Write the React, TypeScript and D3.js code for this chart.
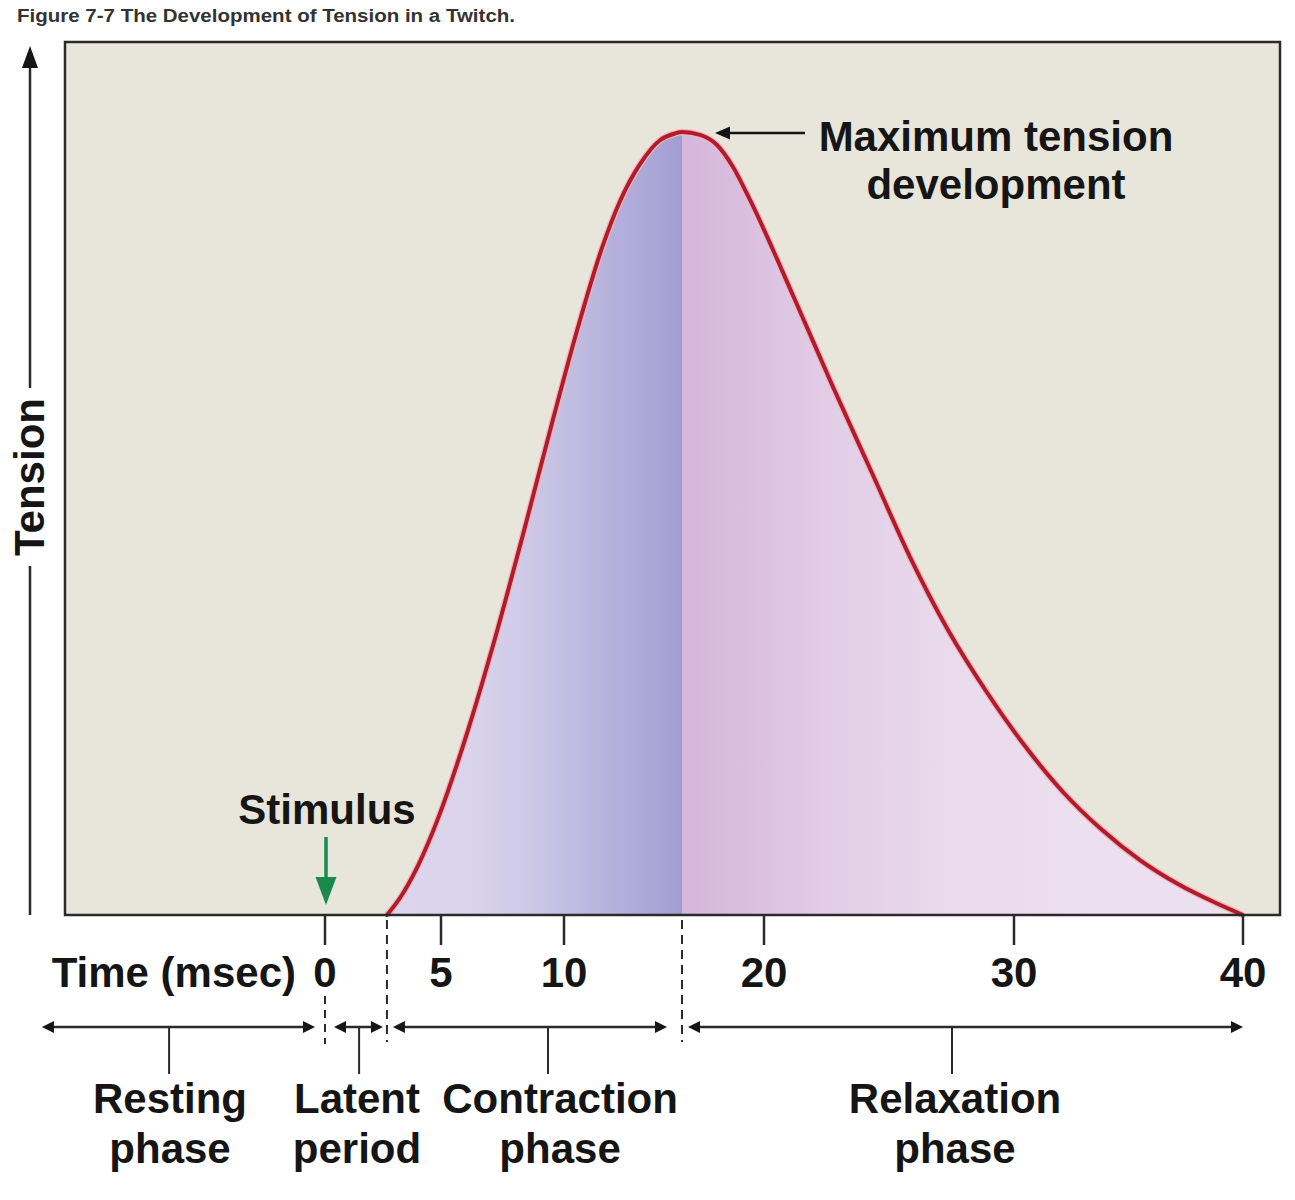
import React from "react";
import * as d3 from "d3";

// ---- Data ----
const titleText = "Figure 7-7 The Development of Tension in a Twitch.";
const tickTimes = [0, 5, 10, 20, 30, 40];
const tickLabels = ["0", "5", "10", "20", "30", "40"];

// twitch curve: time (msec) vs tension (% of max)
const timeMs = [2.67, 3.23, 4.01, 4.87, 6.06, 7.28, 8.41, 9.51, 10.7, 11.9, 12.8, 13.8, 14.8, 15.55, 15.9, 16.8, 17.65, 18.45, 19.3, 21.24, 22.76, 24.32, 25.84, 27.36, 28.88, 30.48, 32.14, 33.8, 35.5, 37.16, 38.82, 40];
const tension = [0, 2.17, 6.31, 12.31, 23.24, 36.27, 49.5, 62.78, 75.07, 85.19, 91.16, 95.89, 98.95, 99.81, 100, 99.62, 98.34, 95.53, 91.32, 78.54, 67.43, 56.45, 45.72, 36.4, 28.61, 21.58, 15.71, 10.98, 7.02, 3.96, 1.53, 0];

const stimulusTime = 0;
const onsetTime = 2.67;
const peakTime = 15.9;
const endTime = 40;

// phases: [start, end] in msec, label lines, tick / label anchor times
const phaseStarts = [-12.2, 0, 2.67, 15.9];
const phaseEnds = [0, 2.67, 15.9, 40];
const phaseLabels = [["Resting", "phase"], ["Latent", "period"], ["Contraction", "phase"], ["Relaxation", "phase"]];
const phaseTickTimes = [-6.72, 1.47, 9.35, 27.52];
const phaseLabelTimes = [-6.68, 1.38, 9.84, 27.64];

// fill colour stops (time, colour)
const fillStopTimes = [2.67, 6.2, 8.2, 9.85, 12.8, 15.3, 15.9, 15.9, 18.3, 20.6, 23.4, 27.4, 33.4, 40];
const fillStopColors = ["#ddd6ed", "#d9d3eb", "#d0cbe7", "#c4c0e2", "#b3aedb", "#a5a2d4", "#9f9dd0", "#d6b6da", "#d9bcde", "#dec5e3", "#e3cfe7", "#e9daec", "#ecdfef", "#ecdff0"];

const FONT = "'Liberation Sans', Arial, Helvetica, sans-serif";

export default function App() {
  const W = 1295, H = 1200;
  const box = { left: 65, top: 42, right: 1280, bottom: 915 };

  const x = d3.scaleLinear().domain(tickTimes).range([325, 441, 564, 764, 1014, 1243]);
  const y = d3.scaleLinear().domain([0, 100]).range([box.bottom, 132]);

  const pts: [number, number][] = timeMs.map((t, i) => [t, tension[i]]);
  const line = d3.line<[number, number]>().x(d => x(d[0])).y(d => y(d[1])).curve(d3.curveMonotoneX);
  const area = d3.area<[number, number]>().x(d => x(d[0])).y0(box.bottom).y1(d => y(d[1])).curve(d3.curveMonotoneX);

  const gx0 = x(onsetTime), gx1 = x(endTime);
  const stops = fillStopTimes.map((t, i) => ({ off: (x(t) - gx0) / (gx1 - gx0), c: fillStopColors[i] }));

  const ink = "#151515";
  const lineInk = "#2a2a2a";
  const FS = 42;

  const arrowHead = (tipX: number, tipY: number, dir: "l" | "r" | "u" | "d", len: number, half: number, fill: string, key?: string) => {
    let p = "";
    if (dir === "l") p = `M${tipX},${tipY}L${tipX + len},${tipY - half}L${tipX + len},${tipY + half}Z`;
    if (dir === "r") p = `M${tipX},${tipY}L${tipX - len},${tipY - half}L${tipX - len},${tipY + half}Z`;
    if (dir === "u") p = `M${tipX},${tipY}L${tipX - half},${tipY + len}L${tipX + half},${tipY + len}Z`;
    if (dir === "d") p = `M${tipX},${tipY}L${tipX - half},${tipY - len}L${tipX + half},${tipY - len}Z`;
    return <path key={key} d={p} fill={fill} />;
  };

  const phaseY = 1027;
  const padL = [0, 9, 6, 6];
  const padR = [10, 4, 15, 0];

  const peakX = x(peakTime), peakY = y(100);

  return (
    <svg width={W} height={H} style={{ position: "absolute", left: 0, top: 0, background: "#ffffff" }} fontFamily={FONT}>
      <defs>
        <linearGradient id="twitchFill" gradientUnits="userSpaceOnUse" x1={gx0} y1={0} x2={gx1} y2={0}>
          {stops.map((s, i) => <stop key={i} offset={s.off} stopColor={s.c} />)}
        </linearGradient>
      </defs>

      {/* title */}
      <text x={17} y={22} fontSize={18} fontWeight="bold" fill="#333" textLength={498} lengthAdjust="spacingAndGlyphs">{titleText}</text>

      {/* plot box */}
      <rect x={box.left} y={box.top} width={box.right - box.left} height={box.bottom - box.top} fill="#e8e5da" />
      <path d={area(pts) || ""} fill="url(#twitchFill)" />
      <path d={line(pts) || ""} fill="none" stroke="#f2b5bb" strokeWidth={6.5} strokeLinejoin="round" />
      <path d={line(pts) || ""} fill="none" stroke="#b01c2c" strokeWidth={4} strokeLinejoin="round" strokeLinecap="round" />
      <rect x={box.left} y={box.top} width={box.right - box.left} height={box.bottom - box.top} fill="none" stroke={lineInk} strokeWidth={2.5} />

      {/* y axis arrow + label */}
      <line x1={30} y1={62} x2={30} y2={388} stroke={lineInk} strokeWidth={2.5} />
      <line x1={30} y1={566} x2={30} y2={915} stroke={lineInk} strokeWidth={2.5} />
      {arrowHead(30, 46, "u", 22, 8, ink)}
      <text transform={`translate(29,${(388 + 566) / 2}) rotate(-90)`} textAnchor="middle" dominantBaseline="central" fontSize={FS} fontWeight="bold" fill={ink}>Tension</text>

      {/* x ticks */}
      {tickTimes.map((t, i) => (
        <g key={t}>
          <line x1={x(t)} y1={box.bottom} x2={x(t)} y2={945} stroke={lineInk} strokeWidth={2.5} />
          <text x={x(t)} y={987} textAnchor="middle" fontSize={FS} fontWeight="bold" fill={ink}>{tickLabels[i]}</text>
        </g>
      ))}
      <text x={296} y={987} textAnchor="end" fontSize={FS} fontWeight="bold" fill={ink}>Time (msec)</text>

      {/* dashed boundaries */}
      <line x1={x(stimulusTime)} y1={996} x2={x(stimulusTime)} y2={1044} stroke={lineInk} strokeWidth={2} strokeDasharray="8,6" />
      <line x1={x(onsetTime)} y1={920} x2={x(onsetTime)} y2={1042} stroke={lineInk} strokeWidth={2} strokeDasharray="9,6" />
      <line x1={peakX} y1={920} x2={peakX} y2={1042} stroke={lineInk} strokeWidth={2} strokeDasharray="9,6" />

      {/* phase arrows */}
      {phaseStarts.map((s, i) => {
        const a = x(s) + padL[i];
        const b = x(phaseEnds[i]) - padR[i];
        const tx = x(phaseTickTimes[i]);
        const lx = x(phaseLabelTimes[i]);
        return (
          <g key={i}>
            <line x1={a + 6} y1={phaseY} x2={b - 6} y2={phaseY} stroke={lineInk} strokeWidth={2.5} />
            {arrowHead(a, phaseY, "l", 12, 6, ink, "l" + i)}
            {arrowHead(b, phaseY, "r", 12, 6, ink, "r" + i)}
            <line x1={tx} y1={phaseY} x2={tx} y2={1074} stroke={lineInk} strokeWidth={2} />
            {phaseLabels[i].map((ln, j) => (
              <text key={j} x={lx} y={1113 + j * 50} textAnchor="middle" fontSize={FS} fontWeight="bold" fill={ink}>{ln}</text>
            ))}
          </g>
        );
      })}

      {/* stimulus */}
      <text x={x(stimulusTime) + 2} y={824} textAnchor="middle" fontSize={FS} fontWeight="bold" fill={ink}>Stimulus</text>
      <line x1={x(stimulusTime) + 1} y1={837} x2={x(stimulusTime) + 1} y2={884} stroke="#1a8a4c" strokeWidth={3.5} />
      {arrowHead(x(stimulusTime) + 1, 905, "d", 28, 10.5, "#1a8a4c")}

      {/* max tension annotation */}
      <line x1={peakX + 45} y1={peakY + 1} x2={805} y2={peakY + 1} stroke={ink} strokeWidth={2.5} />
      {arrowHead(peakX + 33, peakY + 1, "l", 15, 6.5, ink)}
      <text x={996} y={151} textAnchor="middle" fontSize={FS} fontWeight="bold" fill={ink}>Maximum tension</text>
      <text x={996} y={199} textAnchor="middle" fontSize={FS} fontWeight="bold" fill={ink}>development</text>
    </svg>
  );
}
